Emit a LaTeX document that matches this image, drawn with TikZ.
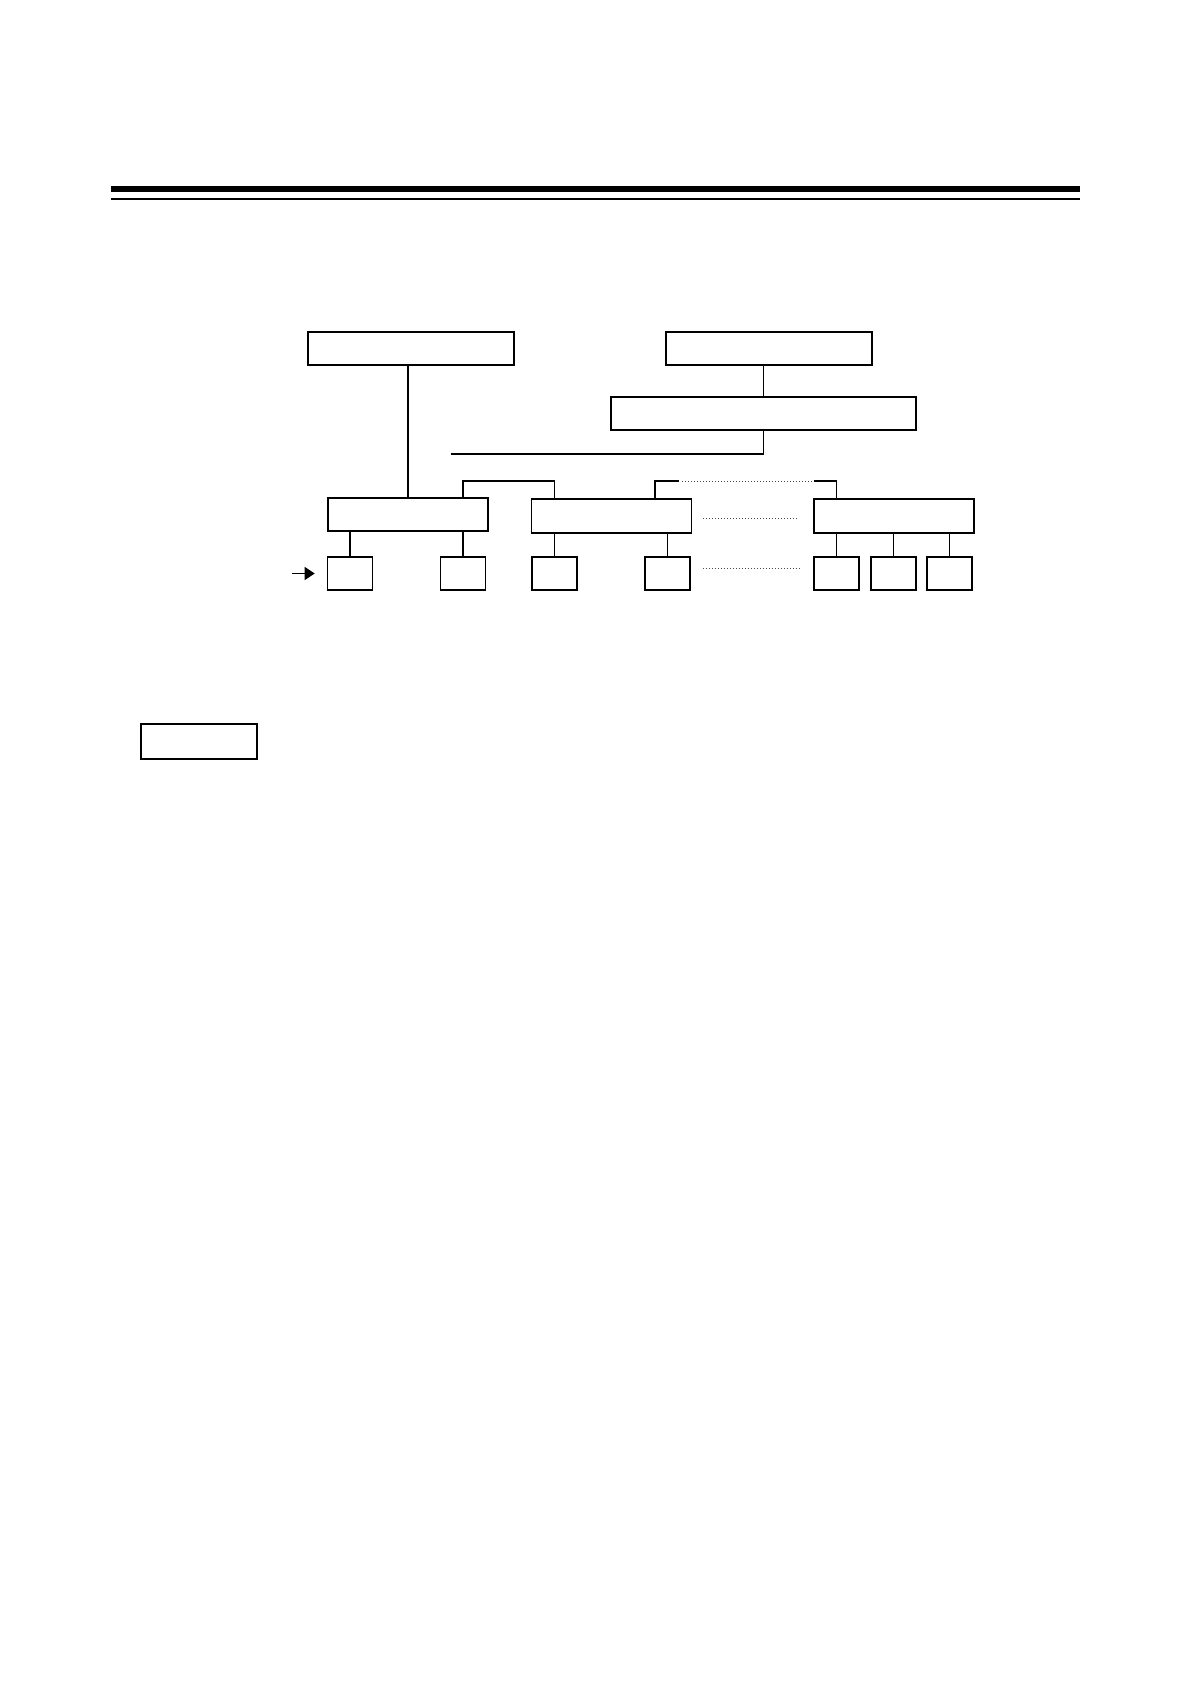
\documentclass[tikz,border=0pt]{standalone}
\usetikzlibrary{calc, arrows.meta}
\tikzstyle{block}=[draw, rectangle, inner sep=0pt, line width=0.8pt, minimum height=16.5pt]
\tikzstyle{wide}=[block, minimum width=103pt]
\tikzstyle{group}=[block, minimum width=80pt, minimum height=17pt]
\tikzstyle{unit}=[block, minimum width=22.5pt]
\tikzstyle{link}=[line width=0.7pt]
\tikzstyle{ellipsis}=[densely dotted, line width=0.5pt, black!70]

\begin{document}
\begin{tikzpicture}[x=0.5pt, y=-0.5pt]
    \useasboundingbox (0,0) rectangle (1190,1684);
    % header rules
    \draw[line width=3pt] (111,189) -- (1080,189);
    \draw[line width=1pt] (111,199) -- (1080,199);

    \node (tl)[wide] at (411, 348.5) {};
    \node (tr)[wide] at (769, 348.5) {};
    \node (mid)[block, minimum width=152.5pt] at (763.5, 413.5) {};

    \node (ga)[group, minimum height=16.5pt] at (408, 514.5) {};
    \node (gb)[group] at (611.5, 516) {};
    \node (gc)[group] at (894, 516) {};

    \node (a1)[unit] at (350, 573.5) {};
    \node (a2)[unit] at (463, 573.5) {};
    \node (b1)[unit] at (554.5, 573.5) {};
    \node (b2)[unit] at (667.5, 573.5) {};
    \node (c1)[unit] at (836.5, 573.5) {};
    \node (c2)[unit] at (893.5, 573.5) {};
    \node (c3)[unit] at (949.5, 573.5) {};

    \node (key)[block, line width=0.7pt, minimum width=58pt, minimum height=17.5pt] at (199, 741.5) {};

    \coordinate (feed) at (451, 454);
    \coordinate (bus) at (0, 481);
    \coordinate (gbx) at (655, 0);
    \coordinate (in) at (292, 573.5);

    \draw[link] (ga.north) -- (ga.north |- tl.south);
    \draw[link] (mid.north) -- (mid.north |- tr.south);
    \draw[link] (mid.south) |- (feed);

    \draw[link] (a2 |- ga.north) -- (a2 |- bus) -| (b1 |- gb.north);
    \draw[link] (gbx |- gb.north) -- (gbx |- bus) -- ++(24,0) coordinate (dl);
    \draw[link] (c1 |- gc.north) -- (c1 |- bus) -- ++(-23,0) coordinate (dr);
    \draw[ellipsis] ($(dl)+(3,0)$) -- ($(dr)+(-2,0)$);

    \draw[ellipsis] ($(gb.east)+(11,2)$) -- ($(gc.west)+(-14,2)$);
    \draw[ellipsis] ($(b2.east)+(12,-5.5)$) -- ($(c1.west)+(-14,-5.5)$);

    \draw[link] (a1.north) -- (a1.north |- ga.south);
    \draw[link] (a2.north) -- (a2.north |- ga.south);
    \draw[link] (b1.north) -- (b1.north |- gb.south);
    \draw[link] (b2.north) -- (b2.north |- gb.south);
    \draw[link] (c1.north) -- (c1.north |- gc.south);
    \draw[link] (c2.north) -- (c2.north |- gc.south);
    \draw[link] (c3.north) -- (c3.north |- gc.south);

    \draw[link, -{Triangle[length=5pt, width=6.5pt]}] (in) -- ($(a1.west)+(-12,0)$);

\end{tikzpicture}
\end{document}
